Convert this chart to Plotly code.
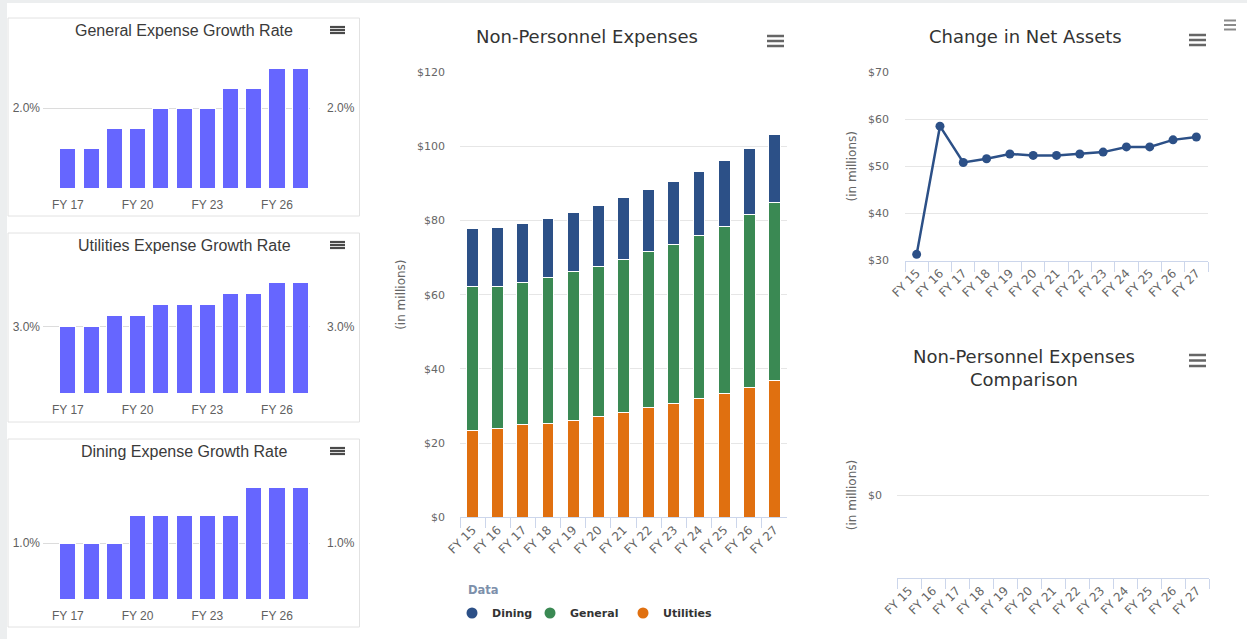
import plotly.graph_objects as go

W, H = 1247, 639

# ---- data -------------------------------------------------------------
years = ["FY 15", "FY 16", "FY 17", "FY 18", "FY 19", "FY 20", "FY 21",
         "FY 22", "FY 23", "FY 24", "FY 25", "FY 26", "FY 27"]
growth_years = years[2:]
growth_ticks = ["FY 17", "FY 20", "FY 23", "FY 26"]

general_growth = [1.0, 1.0, 1.5, 1.5, 2.0, 2.0, 2.0, 2.5, 2.5, 3.0, 3.0]
utilities_growth = [3.0, 3.0, 3.5, 3.5, 4.0, 4.0, 4.0, 4.5, 4.5, 5.0, 5.0]
dining_growth = [1.0, 1.0, 1.0, 1.5, 1.5, 1.5, 1.5, 1.5, 2.0, 2.0, 2.0]

utilities = [23.4, 23.9, 24.9, 25.4, 26.1, 27.2, 28.3, 29.5, 30.6, 32.1, 33.4, 35.0, 37.0]
general = [38.7, 38.4, 38.5, 39.1, 40.2, 40.4, 41.3, 42.0, 42.9, 43.9, 45.1, 46.6, 47.9]
dining = [15.7, 15.7, 15.8, 16.0, 15.9, 16.3, 16.5, 16.9, 17.1, 17.3, 17.6, 17.9, 18.2]

net_assets = [31.3, 58.5, 50.8, 51.6, 52.6, 52.3, 52.3, 52.6, 53.0, 54.1, 54.1, 55.6, 56.2]

# ---- styling ----------------------------------------------------------
ARIAL = "Liberation Sans, Arial, sans-serif"
LUCIDA = "DejaVu Sans, Verdana, sans-serif"
BAR_PURPLE = "#6666ff"
C_DINING = "#2c5087"
C_GENERAL = "#3a8953"
C_UTIL = "#e07010"
GRID = "#e6e6e6"
AXIS = "#ccd6eb"
LABEL = "#666666"


def xd(a, b):
    return [a / W, b / W]


def yd(top, bottom):
    return [1 - bottom / H, 1 - top / H]


def px(x):
    return x / W


def py(y):
    return 1 - y / H


fig = go.Figure()
shapes = []
annotations = []
layout = {}

# page background strips
shapes.append(dict(type="rect", xref="paper", yref="paper", x0=0, x1=1,
                   y0=py(3), y1=1, fillcolor="#eceeef", line_width=0, layer="below"))
shapes.append(dict(type="rect", xref="paper", yref="paper", x0=0, x1=px(7),
                   y0=0, y1=1, fillcolor="#eceeef", line_width=0, layer="below"))


def hamburger(x0, x1, ys, width=2.5, color="#666666"):
    for y in ys:
        shapes.append(dict(type="line", xref="paper", yref="paper",
                           x0=px(x0), x1=px(x1), y0=py(y), y1=py(y),
                           line=dict(color=color, width=width)))


def title(text, x, y, size, family, color="#333333", anchor="center", weight="normal"):
    annotations.append(dict(text=text, x=px(x), y=py(y), xref="paper", yref="paper",
                            showarrow=False, xanchor=anchor, yanchor="middle",
                            font=dict(size=size, family=family, color=color, weight=weight)))


# ---- small growth-rate panels ------------------------------------------
def growth_panel(idx, values, name, box, plot_top, plot_bottom, ymax, tick, title_y):
    xa = f"x{idx}" if idx > 1 else "x"
    ya_l = f"y{2 * idx - 1}" if idx > 1 else "y"
    ya_r = f"y{2 * idx}"
    xkey = "xaxis" + (str(idx) if idx > 1 else "")
    ykey_l = "yaxis" + (str(2 * idx - 1) if idx > 1 else "")
    ykey_r = "yaxis" + str(2 * idx)

    shapes.append(dict(type="rect", xref="paper", yref="paper",
                       x0=px(8), x1=px(359.5), y0=py(box[1]), y1=py(box[0]),
                       line=dict(color="#e2e2e2", width=1), fillcolor="rgba(0,0,0,0)"))
    title(name, 184, title_y, 16, ARIAL, "#3a3a3a")
    hamburger(330, 345, [title_y - 3, title_y, title_y + 3], width=2.2, color="#4a4a4a")

    fig.add_trace(go.Bar(x=growth_years, y=values, xaxis=xa, yaxis=ya_l,
                         marker=dict(color=BAR_PURPLE, line=dict(color="white", width=1)),
                         width=0.69, showlegend=False, hoverinfo="x+y"))
    fig.add_trace(go.Scatter(x=growth_years, y=values, xaxis=xa, yaxis=ya_r,
                             mode="markers", marker=dict(opacity=0), showlegend=False,
                             hoverinfo="skip"))
    tickfont = dict(size=12, family=ARIAL, color="#606060")
    layout[xkey] = dict(domain=xd(43, 310), anchor=ya_l, type="category",
                        range=[-1.07, 10.42], tickvals=growth_ticks, showgrid=False,
                        showline=False, zeroline=False, ticks="", tickfont=tickfont,
                        ticklabelstandoff=8, fixedrange=True)
    common_y = dict(range=[0, ymax], tickvals=[tick], ticktext=[f"{tick:.1f}%"],
                    zeroline=False, showline=False, ticks="", tickfont=tickfont,
                    fixedrange=True)
    layout[ykey_l] = dict(domain=yd(plot_top, plot_bottom), anchor=xa, showgrid=True,
                          gridcolor="#dcdcdc", ticklabelstandoff=2, **common_y)
    layout[ykey_r] = dict(overlaying=ya_l, side="right", anchor=xa, showgrid=False,
                          ticklabelstandoff=16, **common_y)


growth_panel(1, general_growth, "General Expense Growth Rate", (18, 216), 68, 188, 3.0, 2.0, 30)
growth_panel(2, utilities_growth, "Utilities Expense Growth Rate", (233, 422), 278, 393.3, 5.2, 3.0, 245)
growth_panel(3, dining_growth, "Dining Expense Growth Rate", (439, 627), 480, 599.3, 2.125, 1.0, 451)

# ---- stacked non-personnel expenses -----------------------------------
series = [("Utilities", utilities, C_UTIL), ("General", general, C_GENERAL),
          ("Dining", dining, C_DINING)]
for name, vals, col in series:
    fig.add_trace(go.Bar(x=years, y=vals, name=name, xaxis="x4", yaxis="y7",
                         marker=dict(color=col, line=dict(color="white", width=1)),
                         width=0.47, showlegend=False))

# one legend per series so each entry sits where it belongs
legend_slots = {"Dining": ("legend", 474), "General": ("legend2", 552), "Utilities": ("legend3", 645)}
legend_layouts = {}
for name, vals, col in [series[2], series[1], series[0]]:
    key, cx = legend_slots[name]
    fig.add_trace(go.Scatter(x=[None], y=[None], name=name, xaxis="x4", yaxis="y7",
                             mode="markers", marker=dict(color=col, size=11, symbol="circle"),
                             showlegend=True, legend=key))
    legend_layouts[key] = dict(orientation="h", x=px(cx - 22), y=py(613), xanchor="left",
                               yanchor="middle", traceorder="normal",
                               font=dict(size=11, family=LUCIDA, color="#333333", weight="bold"),
                               bgcolor="rgba(0,0,0,0)", borderwidth=0,
                               itemclick=False, itemdoubleclick=False)
title("Data", 466, 590, 11.5, LUCIDA, "#7d90ab", anchor="left", weight="bold")

tick11 = dict(size=11, family=LUCIDA, color=LABEL)
xtick = dict(size=12, family=LUCIDA, color=LABEL)
ytitle = dict(text="(in millions)", font=dict(size=12, family=LUCIDA, color=LABEL), standoff=8)

layout["xaxis4"] = dict(domain=xd(460, 787), anchor="y7", type="category",
                        range=[-0.5, 12.5], showline=True, linecolor=AXIS, linewidth=1,
                        ticks="outside", tickson="boundaries", ticklen=10, tickcolor=AXIS,
                        tickangle=-45, tickfont=xtick, showgrid=False, zeroline=False,
                        fixedrange=True)
layout["yaxis7"] = dict(domain=yd(72, 517.3), anchor="x4", range=[0, 120], dtick=20,
                        tickprefix="$", showgrid=True, gridcolor=GRID, zeroline=False,
                        showline=False, ticks="", tickfont=tick11, ticklabelstandoff=14,
                        title=ytitle, fixedrange=True)
title("Non-Personnel Expenses", 587, 37, 18, LUCIDA)
hamburger(767, 784, [36, 41, 46])

# ---- change in net assets ----------------------------------------------
fig.add_trace(go.Scatter(x=years, y=net_assets, xaxis="x5", yaxis="y8", mode="lines+markers",
                         line=dict(color=C_DINING, width=2.5),
                         marker=dict(color=C_DINING, size=9), showlegend=False,
                         name="Change in Net Assets"))
layout["xaxis5"] = dict(domain=xd(905, 1208), anchor="y8", type="category",
                        range=[-0.5, 12.5], showline=True, linecolor=AXIS, linewidth=1,
                        ticks="outside", tickson="boundaries", ticklen=10, tickcolor=AXIS,
                        tickangle=-45, tickfont=xtick, showgrid=False, zeroline=False,
                        fixedrange=True)
layout["yaxis8"] = dict(domain=yd(72, 260.5), anchor="x5", range=[30, 70], dtick=10,
                        tickprefix="$", showgrid=True, gridcolor=GRID, zeroline=False,
                        showline=False, ticks="", tickfont=tick11, ticklabelstandoff=15,
                        title=ytitle, fixedrange=True)
title("Change in Net Assets", 1025, 37, 18, LUCIDA)
hamburger(1189, 1206, [35, 40, 45])
hamburger(1224, 1236, [20.5, 25, 29.5], width=2, color="#8a8a8a")

# ---- comparison (no series yet) ----------------------------------------
fig.add_trace(go.Scatter(x=years, y=[None] * len(years), xaxis="x6", yaxis="y9",
                         mode="lines", showlegend=False, hoverinfo="skip"))
layout["xaxis6"] = dict(domain=xd(897, 1209), anchor="y9", type="category",
                        categoryorder="array", categoryarray=years, tickvals=years,
                        range=[-0.5, 12.5], showline=True, linecolor=AXIS, linewidth=1,
                        ticks="outside", tickson="boundaries", ticklen=10, tickcolor=AXIS,
                        tickangle=-45, tickfont=xtick, showgrid=False, zeroline=False,
                        fixedrange=True)
layout["yaxis9"] = dict(domain=yd(412, 578), anchor="x6", range=[-1, 1], tickvals=[0],
                        ticktext=["$0"], showgrid=True, gridcolor=GRID, zeroline=False,
                        showline=False, ticks="", tickfont=tick11, ticklabelstandoff=14,
                        title=ytitle, fixedrange=True)
title("Non-Personnel Expenses<br>Comparison", 1024, 368, 18, LUCIDA)
hamburger(1189, 1206, [355, 360.5, 366])

fig.update_layout(
    template="none",
    width=W, height=H,
    margin=dict(l=0, r=0, t=0, b=0),
    paper_bgcolor="white", plot_bgcolor="white",
    barmode="stack",
    showlegend=True,
    shapes=shapes,
    annotations=annotations,
    **legend_layouts,
    **layout,
)

fig.write_html("out.html", config={"displayModeBar": False})
